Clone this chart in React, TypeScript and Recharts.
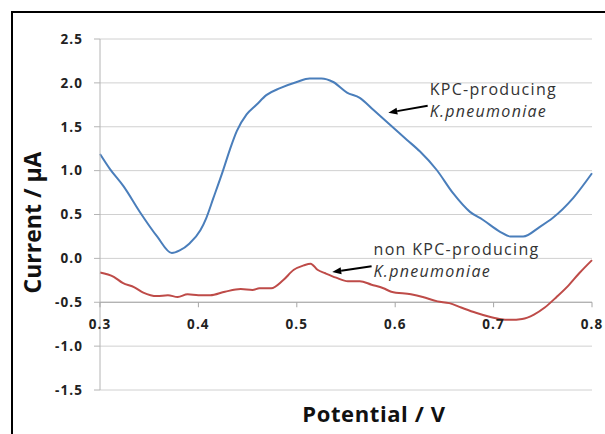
import React from 'react';
import { LineChart, Line, XAxis, YAxis, CartesianGrid, ReferenceLine } from 'recharts';

// KPC-producing K.pneumoniae (blue)
const potentialKpc = [0.300, 0.310, 0.324, 0.341, 0.358, 0.373, 0.381, 0.391, 0.402, 0.408, 0.415, 0.425, 0.432, 0.439, 0.449, 0.459, 0.469, 0.483, 0.500, 0.513, 0.525, 0.537, 0.551, 0.564, 0.578, 0.595, 0.612, 0.625, 0.642, 0.659, 0.676, 0.689, 0.707, 0.717, 0.730, 0.747, 0.760, 0.781, 0.800];
const currentKpc = [1.19, 1.02, 0.82, 0.52, 0.25, 0.06, 0.09, 0.17, 0.32, 0.46, 0.68, 1.00, 1.24, 1.45, 1.64, 1.75, 1.86, 1.94, 2.01, 2.05, 2.05, 2.01, 1.89, 1.83, 1.69, 1.52, 1.35, 1.22, 1.01, 0.74, 0.53, 0.44, 0.30, 0.25, 0.25, 0.36, 0.46, 0.69, 0.97];

// non KPC-producing K.pneumoniae (red)
const potentialNon = [0.300, 0.314, 0.323, 0.335, 0.344, 0.358, 0.369, 0.379, 0.389, 0.400, 0.412, 0.427, 0.443, 0.455, 0.462, 0.474, 0.486, 0.497, 0.507, 0.514, 0.521, 0.529, 0.540, 0.552, 0.564, 0.576, 0.588, 0.596, 0.616, 0.628, 0.643, 0.655, 0.667, 0.682, 0.694, 0.706, 0.717, 0.729, 0.741, 0.752, 0.764, 0.776, 0.787, 0.800];
const currentNon = [-0.16, -0.21, -0.28, -0.33, -0.39, -0.43, -0.42, -0.44, -0.41, -0.42, -0.42, -0.38, -0.35, -0.36, -0.34, -0.34, -0.25, -0.13, -0.08, -0.06, -0.13, -0.17, -0.22, -0.26, -0.26, -0.30, -0.34, -0.38, -0.41, -0.44, -0.49, -0.51, -0.56, -0.62, -0.66, -0.69, -0.70, -0.69, -0.64, -0.56, -0.44, -0.31, -0.17, -0.02];

const xTicks = [0.3, 0.4, 0.5, 0.6, 0.7, 0.8];
const yTicks = [-1.5, -1.0, -0.5, 0.0, 0.5, 1.0, 1.5, 2.0, 2.5];
const X_CROSS = -0.5; // horizontal axis crosses the vertical one here

const kpcData = potentialKpc.map((v, i) => ({ v, i: currentKpc[i] }));
const nonData = potentialNon.map((v, i) => ({ v, i: currentNon[i] }));

const W = 605;
const H = 434;
const M = { top: 39, right: 13, bottom: 0, left: 0 };
const X_AXIS_H = 44;
const PLOT_H = H - M.top - M.bottom - X_AXIS_H;
const FONT = '"Open Sans", sans-serif';

const BLUE = '#4a7ebb';
const RED = '#be4b48';

const tickStyle = { fontFamily: FONT, fontWeight: 700, fontSize: 13.5, fill: '#222', letterSpacing: 1.1 };

// x tick labels sit under the y = -0.5 line, not at the bottom of the plot
const CrossTick = (props: any) => {
  const { x, payload } = props;
  const top = yTicks[yTicks.length - 1];
  const y0 = M.top + (PLOT_H * (top - X_CROSS)) / (top - yTicks[0]);
  return (
    <g>
      <line x1={x} y1={y0} x2={x} y2={y0 + 5} stroke="#a6a6a6" />
      <text x={x} y={y0 + 27} textAnchor="middle" style={tickStyle}>
        {Number(payload.value).toFixed(1)}
      </text>
    </g>
  );
};

const YTitle = (props: any) => {
  const { viewBox } = props;
  const cx = 41;
  const cy = viewBox.y + viewBox.height / 2 + 8;
  return (
    <text x={cx} y={cy} transform={`rotate(-90, ${cx}, ${cy})`} textAnchor="middle"
      style={{ fontFamily: FONT, fontWeight: 700, fontSize: 23, fill: '#111' }}>
      Current / µA
    </text>
  );
};

const arrowNote = (lines: string[]) => (props: any) => {
  const { x1, y1, x2, y2 } = props;
  const ang = Math.atan2(y2 - y1, x2 - x1);
  const len = 9;
  const w = 3.5;
  const bx = x2 - len * Math.cos(ang);
  const by = y2 - len * Math.sin(ang);
  const px = -Math.sin(ang) * w;
  const py = Math.cos(ang) * w;
  return (
    <g>
      <line x1={x1} y1={y1} x2={bx} y2={by} stroke="#000" strokeWidth={2} />
      <polygon points={`${x2},${y2} ${bx + px},${by + py} ${bx - px},${by - py}`} fill="#000" />
      <text x={x1 + 2} y={y1 - 11} fontFamily={FONT} fontSize={16} fill="#333" letterSpacing={1.3}>
        {lines[0]}
      </text>
      <text x={x1 + 2} y={y1 + 11} fontFamily={FONT} fontSize={16} fontStyle="italic" fill="#333" letterSpacing={1.3}>
        {lines[1]}
      </text>
    </g>
  );
};

export default function App() {
  return (
    <div style={{ position: 'absolute', left: 0, top: 0, width: W, height: H, background: '#fff' }}>
      <div style={{ position: 'absolute', left: 11, top: 11, right: 0, bottom: 0, borderTop: '2px solid #000', borderLeft: '2px solid #000' }} />
      <LineChart width={W} height={H} margin={M} style={{ position: 'absolute', left: 0, top: 0 }}>
        <CartesianGrid horizontal vertical={false} stroke="#d0d0d0" />
        <XAxis
          type="number"
          dataKey="v"
          domain={[0.3, 0.8]}
          ticks={xTicks}
          axisLine={false}
          tickLine={false}
          height={X_AXIS_H}
          tick={<CrossTick />}
          label={{ value: 'Potential / V', position: 'insideBottom', offset: 12, dx: 28, style: { fontFamily: FONT, fontWeight: 700, fontSize: 22, fill: '#111', letterSpacing: 0.6 } }}
        />
        <YAxis
          type="number"
          domain={[-1.5, 2.5]}
          ticks={yTicks}
          width={100}
          stroke="#b4b4b4"
          tickSize={6}
          tickMargin={11}
          tickFormatter={(v: number) => v.toFixed(1)}
          tick={tickStyle}
          label={<YTitle />}
        />
        <ReferenceLine y={X_CROSS} stroke="#a6a6a6" />
        <Line data={kpcData} dataKey="i" type="monotone" stroke={BLUE} strokeWidth={2} dot={false} isAnimationActive={false} />
        <Line data={nonData} dataKey="i" type="monotone" stroke={RED} strokeWidth={2} dot={false} isAnimationActive={false} />
        <ReferenceLine
          segment={[{ x: 0.633, y: 1.74 }, { x: 0.593, y: 1.66 }]}
          shape={arrowNote(['KPC-producing', 'K.pneumoniae'])}
        />
        <ReferenceLine
          segment={[{ x: 0.576, y: -0.09 }, { x: 0.536, y: -0.155 }]}
          shape={arrowNote(['non KPC-producing', 'K.pneumoniae'])}
        />
      </LineChart>
    </div>
  );
}
